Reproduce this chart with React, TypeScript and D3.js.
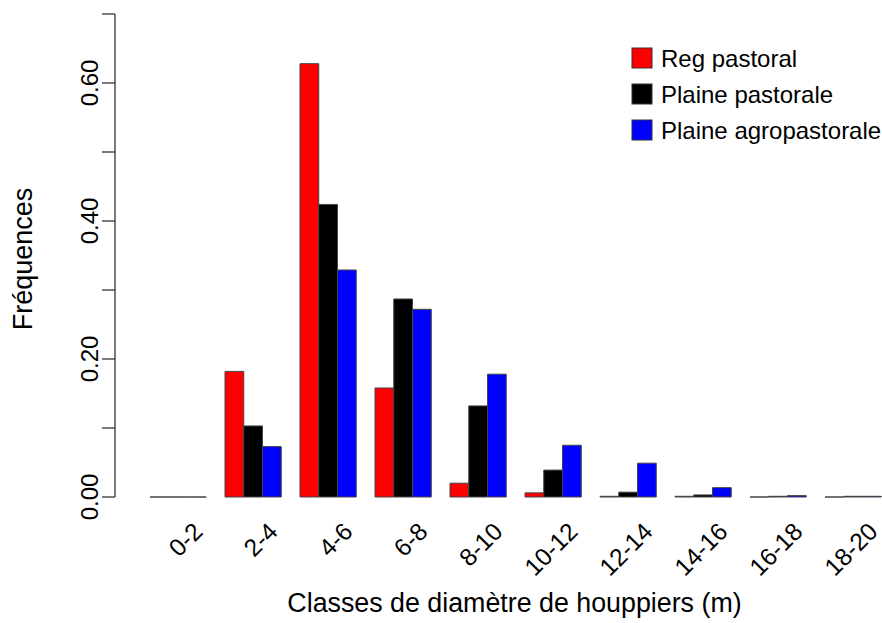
import React from "react";
import * as d3 from "d3";

const categories = ["0-2", "2-4", "4-6", "6-8", "8-10", "10-12", "12-14", "14-16", "16-18", "18-20"];
const seriesNames = ["Reg pastoral", "Plaine pastorale", "Plaine agropastorale"];
const seriesColors = ["#ff0000", "#000000", "#0000ff"];
const regPastoral = [0, 0.182, 0.628, 0.158, 0.02, 0.006, 0.001, 0.001, 0, 0];
const plainePastorale = [0, 0.103, 0.424, 0.287, 0.132, 0.039, 0.007, 0.003, 0.001, 0.001];
const plaineAgropastorale = [0, 0.073, 0.329, 0.272, 0.178, 0.075, 0.049, 0.0135, 0.002, 0.001];
const yTicks = [0, 0.1, 0.2, 0.3, 0.4, 0.5, 0.6, 0.7];
const yLabelTicks = [0, 0.2, 0.4, 0.6];

const W = 882;
const H = 623;
const FONT = "'Liberation Sans', Arial, Helvetica, sans-serif";

export default function App() {
  const seriesValues = [regPastoral, plainePastorale, plaineAgropastorale];
  const x = d3.scaleBand<string>().domain(categories).range([150, 881.25]).paddingInner(0.25).paddingOuter(0);
  const xs = d3.scaleBand<string>().domain(seriesNames).range([0, x.bandwidth()]).padding(0);
  const y = d3.scaleLinear().domain([0, 0.7]).range([497, 14]);
  const axisX = 115;
  const fmt = d3.format(".2f");

  return (
    <svg width={W} height={H} style={{ position: "absolute", left: 0, top: 0, background: "#fff" }} fontFamily={FONT}>
      <rect x={0} y={0} width={W} height={H} fill="#fff" />
      {/* bars */}
      {categories.map((c, i) => (
        <g key={c}>
          {seriesNames.map((s, j) => {
            const v = seriesValues[j][i];
            const x0 = (x(c) as number) + (xs(s) as number);
            const x1 = x0 + xs.bandwidth();
            const p = d3.path();
            p.moveTo(x0, y(0));
            p.lineTo(x0, y(v));
            p.lineTo(x1, y(v));
            p.lineTo(x1, y(0));
            p.closePath();
            return (
              <path
                key={s}
                d={p.toString()}
                fill={seriesColors[j]}
                stroke="#444"
                strokeWidth={1}
              />
            );
          })}
        </g>
      ))}
      {/* y axis */}
      <line x1={axisX} x2={axisX} y1={y(0.7)} y2={y(0)} stroke="#333" strokeWidth={1.3} />
      {yTicks.map((t) => (
        <line key={t} x1={axisX - 13} x2={axisX} y1={y(t)} y2={y(t)} stroke="#333" strokeWidth={1.3} />
      ))}
      {yLabelTicks.map((t) => (
        <text
          key={t}
          transform={`translate(98,${y(t)}) rotate(-90)`}
          textAnchor="middle"
          fontSize={24}
          fill="#000"
        >
          {fmt(t)}
        </text>
      ))}
      <text transform={`translate(32,259) rotate(-90)`} textAnchor="middle" fontSize={27} fill="#000">
        Fréquences
      </text>
      {/* x labels */}
      {categories.map((c) => {
        const cx = (x(c) as number) + x.bandwidth() / 2;
        return (
          <text
            key={c}
            transform={`translate(${cx + 26},533) rotate(-45)`}
            textAnchor="end"
            fontSize={24.5}
            fill="#000"
          >
            {c}
          </text>
        );
      })}
      <text x={514.5} y={612} textAnchor="middle" fontSize={26.8} fill="#000">
        Classes de diamètre de houppiers (m)
      </text>
      {/* legend */}
      {seriesNames.map((s, j) => (
        <g key={s} transform={`translate(632,${58 + j * 36})`}>
          <rect x={0} y={-10} width={20} height={20} fill={seriesColors[j]} stroke="#333" strokeWidth={1} />
          <text x={29} y={8.5} fontSize={24} fill="#000">
            {s}
          </text>
        </g>
      ))}
    </svg>
  );
}
